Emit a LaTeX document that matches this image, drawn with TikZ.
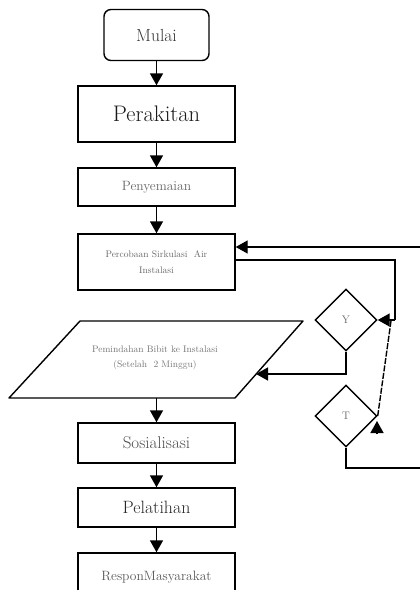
\documentclass[tikz,border=0pt]{standalone}
\usetikzlibrary{shapes.geometric,arrows.meta,calc}
\begin{document}
\begin{tikzpicture}[x=1pt,y=-1pt,
  box/.style={draw,line width=1.4pt,minimum width=157pt,inner sep=0pt,align=center},
  dec/.style={draw,diamond,aspect=1,line width=1.4pt,minimum size=62pt,inner sep=0pt,text=black!60,font=\fontsize{11}{12}\selectfont},
  conn/.style={line width=1.4pt},
  arr/.style={conn,-{Triangle[width=13pt,length=12pt]}}]
\useasboundingbox (0,0) rectangle (420,590);
% nodes
\node[box,rounded corners=7pt,minimum width=105pt,minimum height=51pt,text=black!80,font=\fontsize{17.5}{18}\selectfont] (mulai) at (156.5,35) {Mulai};
\node[box,minimum height=56pt,text=black!90,font=\fontsize{22.5}{23}\selectfont] (perakitan) at (156.5,114) {Perakitan};
\node[box,minimum height=38pt,text=black!60,font=\fontsize{13.5}{14}\selectfont] (penyemaian) at (156.5,187) {Penyemaian};
\node[box,minimum height=56pt,text=black!60,font=\fontsize{9.5}{16}\selectfont] (percobaan) at (156.5,262) {Percobaan Sirkulasi\ \ Air\\Instalasi};
% parallelogram
\coordinate (ptl) at (80,321);
\coordinate (ptr) at (303,321);
\coordinate (pbr) at (235,398);
\coordinate (pbl) at (9,398);
\draw[line width=1.4pt,line join=round] (ptl) -- (ptr) -- (pbr) -- (pbl) -- cycle;
\node[align=center,text=black!55,font=\fontsize{9.5}{15}\selectfont] (pemindahan) at (155,358) {Pemindahan Bibit ke Instalasi\\(Setelah\ \ 2 Minggu)};
\node[box,minimum height=40pt,text=black!70,font=\fontsize{17}{18}\selectfont] (sosialisasi) at (156.5,443) {Sosialisasi};
\node[box,minimum height=39pt,text=black!85,font=\fontsize{17.8}{18}\selectfont] (pelatihan) at (156.5,507.5) {Pelatihan};
\node[box,minimum height=48pt,text=black!65,font=\fontsize{13.5}{14}\selectfont] (respon) at (156.5,577) {ResponMasyarakat};
\node[dec] (Y) at (346,320) {Y};
\node[dec] (T) at (346,416) {T};
% main arrows
\draw[arr] (mulai) -- (perakitan);
\draw[arr] (perakitan) -- (penyemaian);
\draw[arr] (penyemaian) -- (percobaan);
\coordinate (pbot) at (156.5,398);
\draw[arr] (pbot) -- (sosialisasi);
\draw[arr] (sosialisasi) -- (pelatihan);
\draw[arr] (pelatihan) -- (respon);
% loop
\coordinate (inR) at (420,247);
\draw[arr] (inR) -- (inR -| percobaan.east);
\coordinate (outV) at (395,260);
\draw[conn] (percobaan.east |- outV) -- (outV) -- (395,320);
\coordinate (yR) at (395,320);
\draw[arr] (yR) -- (Y.east);
\coordinate (pIn) at (256,374);
\draw[arr] (Y.south) |- (pIn);
\coordinate (dTop) at (391,321);
\draw[line width=1.4pt,dash pattern=on 6pt off 1.5pt] (T.east) -- (dTop);
\coordinate (tA) at (377,434);
\coordinate (tB) at (377,421);
\draw[arr] (tA) -- (tB);
\coordinate (tOut) at (420,468);
\draw[conn] (T.south) |- (tOut);
\end{tikzpicture}
\end{document}
